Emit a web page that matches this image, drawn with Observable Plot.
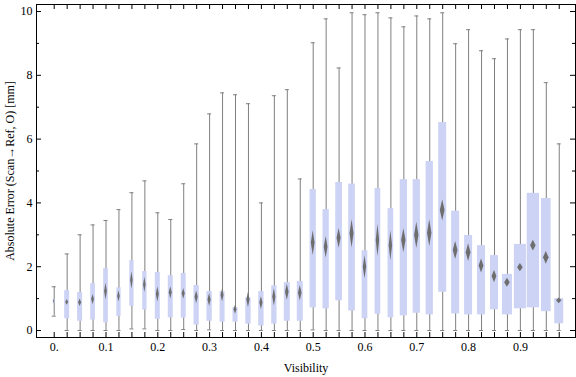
<!DOCTYPE html>
<html><head><meta charset="utf-8">
<script src="https://cdn.jsdelivr.net/npm/d3@7"></script>
<script src="https://cdn.jsdelivr.net/npm/@observablehq/plot@0.6"></script>
<style>body{margin:0;background:#fff} svg text{font-family:"Liberation Serif",serif}</style>
</head><body><div id="chart"></div>
<script>
const visibility = [0, 0.025, 0.05, 0.075, 0.1, 0.125, 0.15, 0.175, 0.2, 0.225, 0.25, 0.275, 0.3, 0.325, 0.35, 0.375, 0.4, 0.425, 0.45, 0.475, 0.5, 0.525, 0.55, 0.575, 0.6, 0.625, 0.65, 0.675, 0.7, 0.725, 0.75, 0.775, 0.8, 0.825, 0.85, 0.875, 0.9, 0.925, 0.95, 0.975];
const whiskerLow = [0.45, 0, 0, 0, 0, 0, 0.05, 0.05, 0, 0, 0.03, 0, 0.02, 0, 0, 0, 0, 0, 0, 0, 0.02, 0, 0, 0, 0, 0, 0, 0, 0, 0, 0, 0, 0, 0, 0, 0, 0, 0, 0, 0];
const quartile1 = [0.85, 0.37, 0.29, 0.33, 0.24, 0.44, 0.76, 0.64, 0.35, 0.40, 0.39, 0.17, 0.29, 0.26, 0.26, 0.20, 0.14, 0.20, 0.29, 0.29, 0.71, 0.68, 0.93, 0.61, 0.37, 0.51, 0.40, 0.46, 0.54, 0.49, 1.20, 0.52, 0.49, 0.49, 0.65, 0.49, 0.68, 0.71, 0.59, 0.21];
const median = [0.91, 0.88, 0.87, 0.97, 1.22, 1.07, 1.57, 1.43, 1.13, 1.18, 1.15, 1.04, 0.96, 1.10, 0.65, 0.96, 0.86, 1.04, 1.20, 1.17, 2.74, 2.61, 2.89, 3.03, 1.98, 2.82, 2.66, 2.82, 2.98, 3.05, 3.76, 2.51, 2.44, 2.02, 1.69, 1.50, 1.97, 2.66, 2.28, 0.93];
const quartile3 = [0.97, 1.25, 1.19, 1.47, 1.94, 1.34, 2.19, 1.85, 1.82, 1.72, 1.79, 1.41, 1.22, 1.22, 0.72, 1.03, 1.22, 1.40, 1.50, 1.54, 4.42, 3.79, 4.64, 4.59, 2.50, 4.45, 3.82, 4.73, 4.73, 5.30, 6.52, 3.74, 2.98, 2.66, 2.35, 1.76, 2.70, 4.30, 4.14, 1.00];
const whiskerHigh = [1.37, 2.40, 3.00, 3.31, 3.45, 3.79, 4.32, 4.69, 3.69, 3.48, 4.60, 5.85, 6.79, 7.45, 7.39, 7.11, 4.00, 7.36, 7.55, 4.75, 9.02, 9.77, 8.23, 9.96, 9.90, 9.96, 9.80, 9.52, 9.86, 9.77, 9.96, 8.99, 9.43, 8.77, 8.52, 9.14, 9.43, 9.43, 7.77, 5.85];
const medianConfHalf = [0.08, 0.09, 0.12, 0.16, 0.26, 0.18, 0.27, 0.24, 0.24, 0.19, 0.17, 0.20, 0.20, 0.20, 0.14, 0.24, 0.20, 0.27, 0.25, 0.24, 0.39, 0.34, 0.31, 0.44, 0.36, 0.50, 0.47, 0.38, 0.41, 0.42, 0.33, 0.28, 0.28, 0.22, 0.19, 0.14, 0.13, 0.17, 0.20, 0.09];
const relativeWeight = [2, 5, 5, 4.7, 4.7, 4.3, 4.3, 4.3, 5, 5, 5, 5.3, 5.3, 5, 5, 5.3, 5.3, 5.3, 6, 6, 6.3, 6.3, 6.7, 6.7, 5.7, 5.7, 5.7, 7.3, 7.3, 7.3, 8, 8, 8, 8, 8, 10, 12, 12.3, 9.7, 9];
const xTickLabels = [0, 0.1, 0.2, 0.3, 0.4, 0.5, 0.6, 0.7, 0.8, 0.9];
const yMajorTicks = [0, 2, 4, 6, 8, 10];
const yMinorTicks = [1, 3, 5, 7, 9];

const W = 576, H = 377, mL = 36, mR = 1, mT = 4, mB = 40;
const pw = W - mL - mR, ph = H - mT - mB;
const xDomain = [-0.0342, 1.0064];
const unitPerPx = (xDomain[1] - xDomain[0]) / pw;

const rows = visibility.map((v, i) => ({
  v, lo: whiskerLow[i], q1: quartile1[i], med: median[i], q3: quartile3[i], hi: whiskerHigh[i],
  ci: medianConfHalf[i], hw: relativeWeight[i] * unitPerPx / 2
}));
const cap = 2 * unitPerPx;
const diamonds = rows.flatMap((d, i) => {
  const dw = Math.min(d.hw * 0.6, 2.8 * unitPerPx);
  return [
    {z: i, x: d.v - dw, y1: d.med, y2: d.med},
    {z: i, x: d.v, y1: d.med - d.ci, y2: d.med + d.ci},
    {z: i, x: d.v + dw, y1: d.med, y2: d.med}
  ];
});

const grey = "#7f7f7f";
const font = "Liberation Serif";
const chart = Plot.plot({
  width: W, height: H, marginLeft: mL, marginRight: mR, marginTop: mT, marginBottom: mB,
  style: {fontFamily: font, fontSize: "12px", background: "white", color: "black"},
  x: {domain: xDomain},
  y: {domain: [-0.219, 10.22]},
  marks: [
    Plot.ruleX(rows, {x: "v", y1: "lo", y2: "hi", stroke: grey, strokeWidth: 1}),
    Plot.ruleY(rows, {y: "hi", x1: d => d.v - cap, x2: d => d.v + cap, stroke: grey}),
    Plot.ruleY(rows, {y: "lo", x1: d => d.v - cap, x2: d => d.v + cap, stroke: grey}),
    Plot.rectY(rows, {x1: d => d.v - d.hw, x2: d => d.v + d.hw, y1: "q1", y2: "q3", fill: "#cdd3f5"}),
    Plot.areaY(diamonds, {x: "x", y1: "y1", y2: "y2", z: "z", fill: "#6e6e6e", curve: "linear"}),
    Plot.ruleX(visibility, {x: d => d, insetTop: ph - 5, stroke: "black"}),
    Plot.ruleX(visibility, {x: d => d, insetBottom: ph - 5, stroke: "black"}),
    Plot.ruleY(yMajorTicks, {y: d => d, insetRight: pw - 5, stroke: "black"}),
    Plot.ruleY(yMinorTicks, {y: d => d, insetRight: pw - 3, stroke: "black"}),
    Plot.ruleY(yMajorTicks, {y: d => d, insetLeft: pw - 5, stroke: "black"}),
    Plot.ruleY(yMinorTicks, {y: d => d, insetLeft: pw - 3, stroke: "black"}),
    Plot.axisX({ticks: xTickLabels, tickSize: 0, tickPadding: 5, tickFormat: d => d === 0 ? "0." : String(d),
      fontFamily: font, label: "Visibility", labelAnchor: "center", labelArrow: "none", labelOffset: 34}),
    Plot.axisY({ticks: yMajorTicks, tickSize: 0, tickPadding: 4, fontFamily: font,
      label: "Absolute Error (Scan\u2192Ref, O) [mm]", labelAnchor: "center", labelArrow: "none", labelOffset: 31}),
    Plot.frame({stroke: "black"})
  ]
});
document.getElementById("chart").appendChild(chart);
chart.querySelectorAll('g[aria-label="area"]').forEach(g => g.style.filter = "blur(0.7px)");
</script>
</body></html>
